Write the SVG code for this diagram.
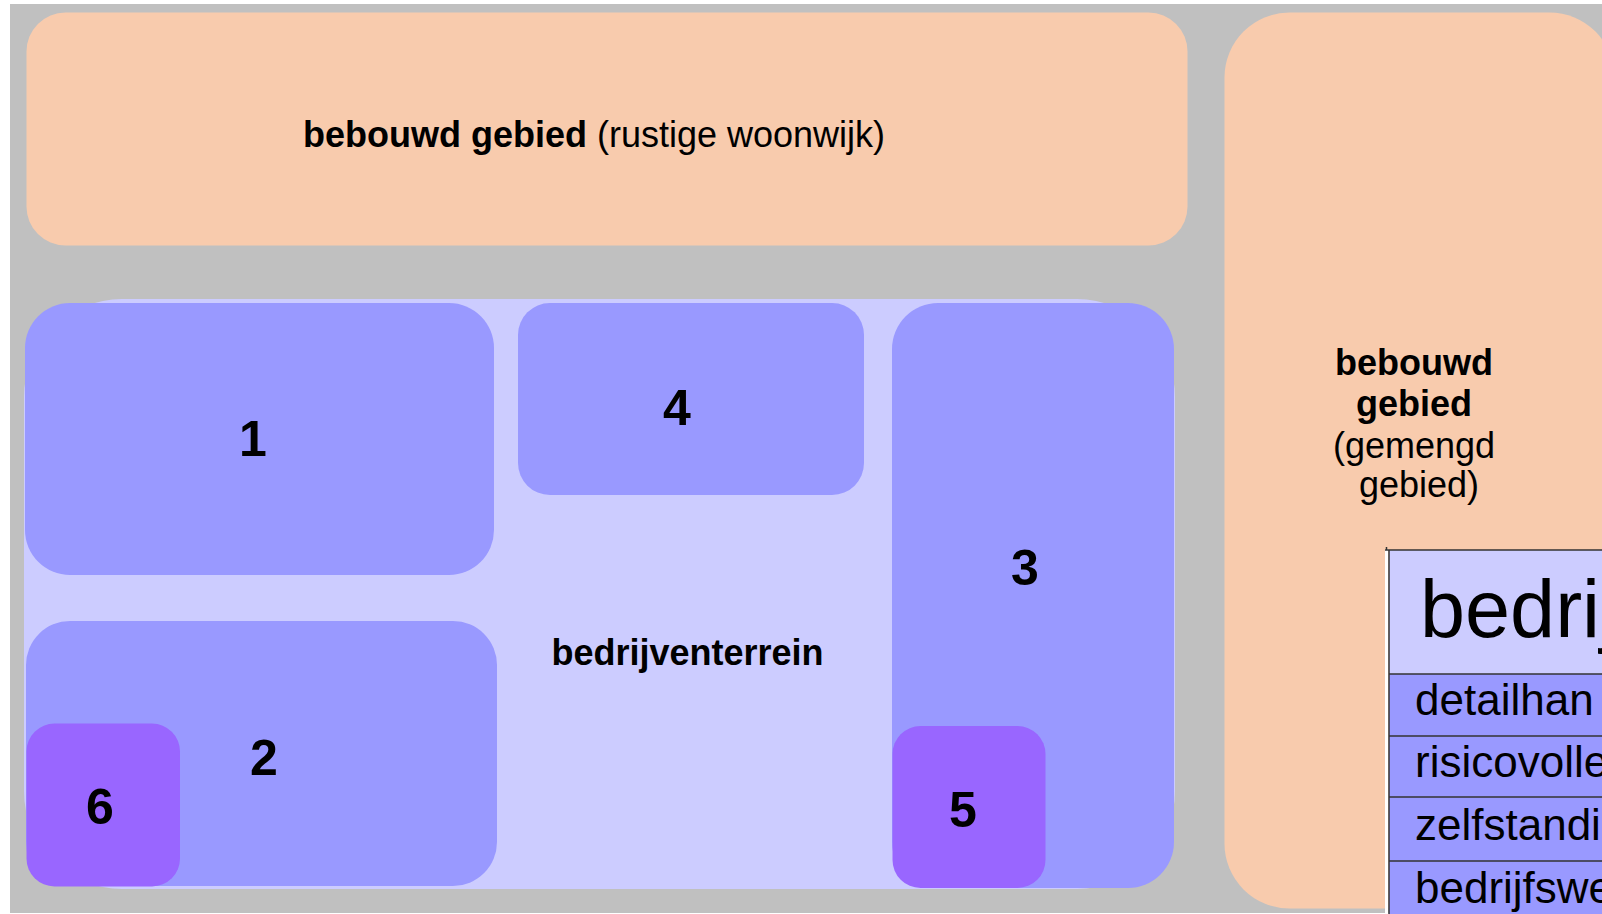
<svg xmlns="http://www.w3.org/2000/svg" width="1602" height="914" viewBox="0 0 1602 914">
  <style>
    text { font-family: "Liberation Sans", Arial, sans-serif; fill: #000; }
    .peach { fill: #f8cbad; }
    .light { fill: #ccccff; }
    .blue { fill: #9999ff; }
    .purple { fill: #9966ff; }
    .lbl { font-size: 36px; }
    .b { font-weight: bold; }
    .num { font-size: 50px; font-weight: bold; text-anchor: middle; }
    .row { font-size: 44px; }
    .grid { stroke: #333333; stroke-width: 1.5; fill: none; }
  </style>
  <rect x="0" y="0" width="1602" height="914" fill="#ffffff"/>
  <rect id="background" x="10" y="4" width="1592" height="909" fill="#c0c0c0"/>

  <g id="woonwijk">
    <rect class="peach" x="26.5" y="12.5" width="1161" height="233" rx="39" ry="39"/>
    <text class="lbl" x="594" y="147" text-anchor="middle"><tspan class="b">bebouwd gebied</tspan> (rustige woonwijk)</text>
  </g>

  <g id="gemengd">
    <rect class="peach" x="1224.5" y="12.5" width="390" height="896" rx="65" ry="65"/>
    <text class="lbl" text-anchor="middle">
      <tspan class="b" x="1419" y="375">bebouwd</tspan>
      <tspan class="b" x="1419" y="416">gebied</tspan>
      <tspan x="1419" y="458">(gemengd</tspan>
      <tspan x="1419" y="497">gebied)</tspan>
    </text>
  </g>

  <g id="bedrijventerrein">
    <rect class="light" x="24" y="299" width="1151" height="590" rx="98" ry="98"/>
    <text class="lbl b" x="687.5" y="665" text-anchor="middle">bedrijventerrein</text>
  </g>

  <g id="zone1">
    <rect class="blue" x="25" y="303" width="469" height="272" rx="45" ry="45"/>
    <text class="num" x="253" y="456">1</text>
  </g>
  <g id="zone4">
    <rect class="blue" x="518" y="303" width="346" height="192" rx="32" ry="32"/>
    <text class="num" x="677" y="425">4</text>
  </g>
  <g id="zone3">
    <rect class="blue" x="892" y="303" width="282" height="585" rx="46" ry="46"/>
    <text class="num" x="1025" y="585">3</text>
  </g>
  <g id="zone2">
    <rect class="blue" x="26" y="621" width="471" height="265" rx="44" ry="44"/>
    <text class="num" x="264" y="775">2</text>
  </g>
  <g id="zone6">
    <rect class="purple" x="26.5" y="723.5" width="153.5" height="163" rx="28" ry="28"/>
    <text class="num" x="100" y="824">6</text>
  </g>
  <g id="zone5">
    <rect class="purple" x="892.5" y="726" width="153" height="162" rx="28" ry="28"/>
    <text class="num" x="963" y="827">5</text>
  </g>

  <g id="tabel">
    <rect x="1385" y="549" width="3.5" height="365" fill="#ffffff"/>
    <rect class="light" x="1389" y="550" width="220" height="124"/>
    <rect class="blue" x="1389" y="674" width="220" height="250"/>
    <path class="grid" d="M1389 550 V914 M1385 550 H1602 M1389 674 H1602 M1389 736 H1602 M1389 797 H1602 M1389 861 H1602 M1386.5 547 V550"/>
    <text x="1420" y="637" font-size="81">bedrij</text>
    <text class="row" x="1415" y="715">detailhan</text>
    <text class="row" x="1415" y="777">risicovolle</text>
    <text class="row" x="1415" y="840">zelfstandi</text>
    <text class="row" x="1415" y="903">bedrijfswe</text>
  </g>
</svg>
